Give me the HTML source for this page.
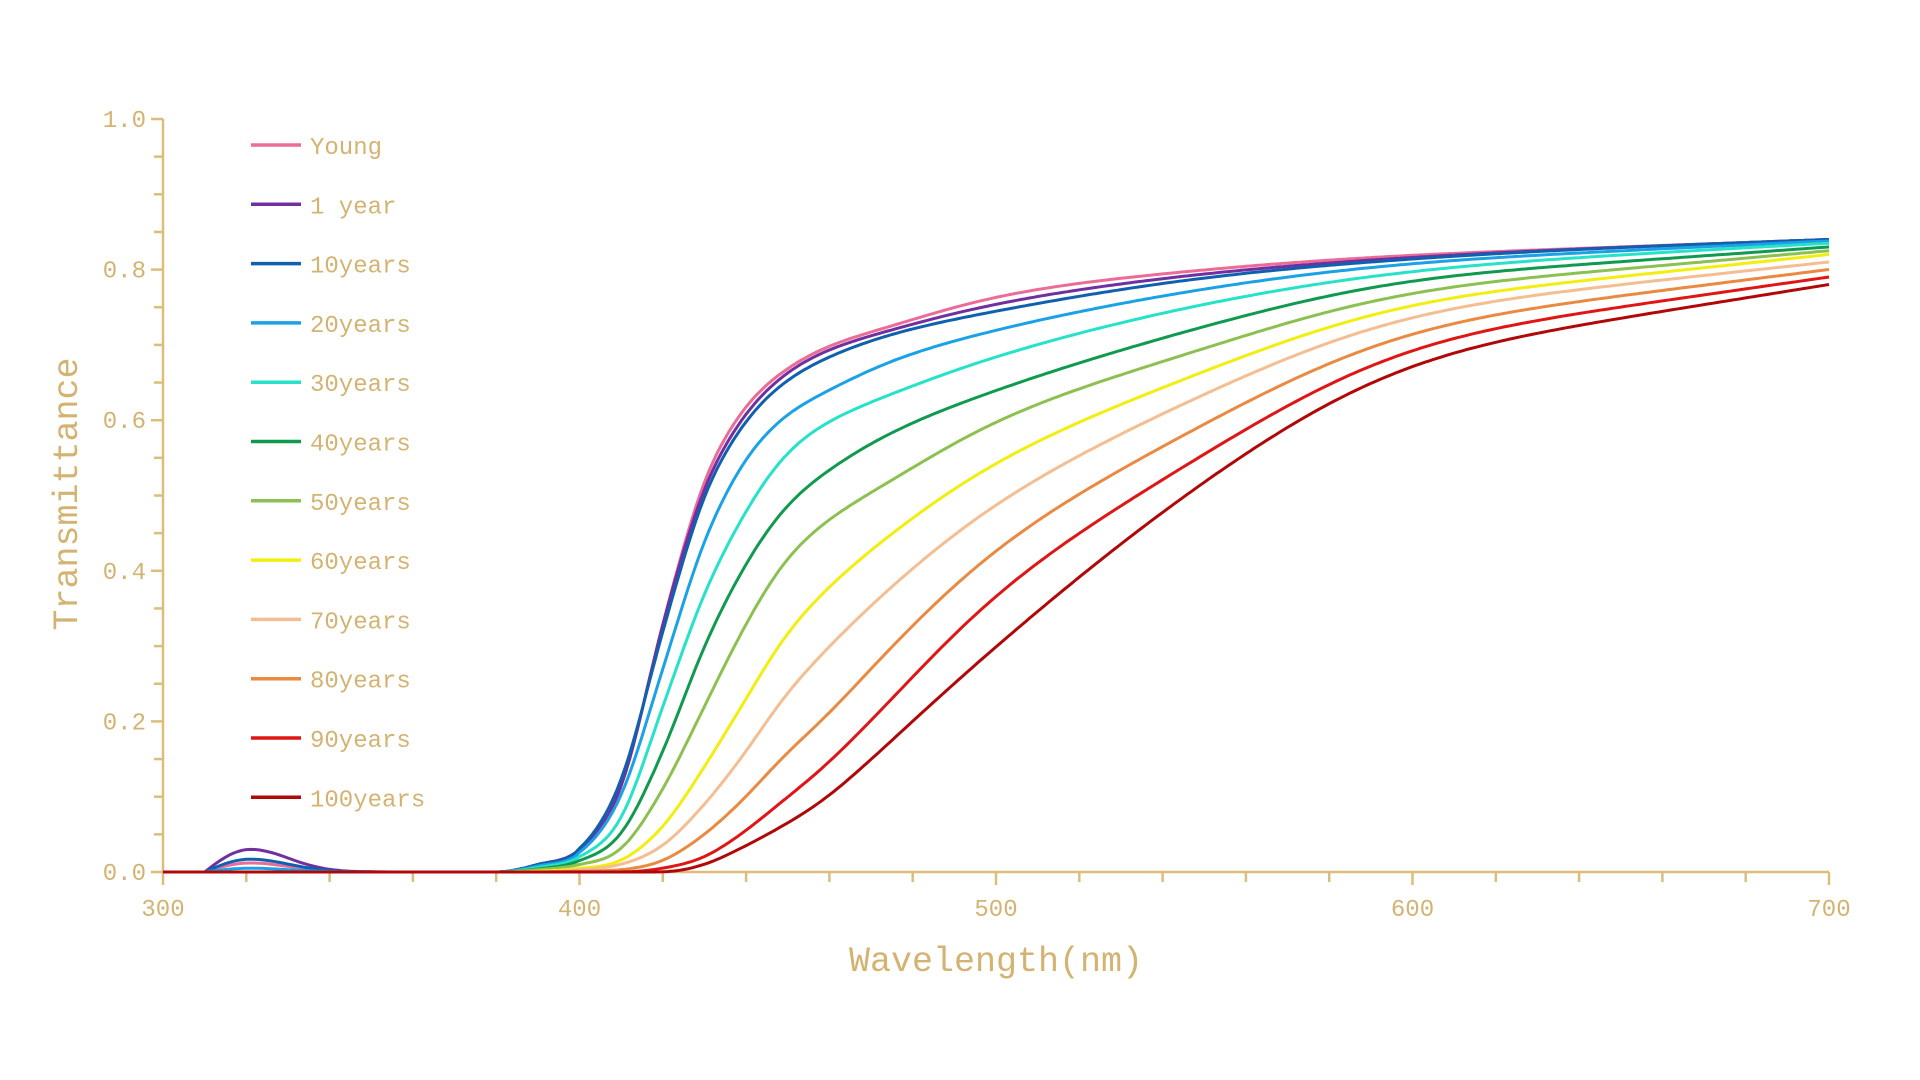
<!DOCTYPE html>
<html><head><meta charset="utf-8"><style>
html,body{margin:0;padding:0;background:#fff;width:1920px;height:1080px;overflow:hidden}
svg text{font-family:"Liberation Mono","DejaVu Sans Mono",monospace;fill:#d4b372}
</style></head><body>
<svg id="s" width="1920" height="1080" xmlns="http://www.w3.org/2000/svg">
<g id="ax" stroke="#dcbd7c" stroke-width="2.5" fill="none"></g>
<g id="tx"></g>
<g id="cv" fill="none" stroke-width="3" stroke-linejoin="round"></g>
<g id="lg"></g>
<text x="68" y="494" font-size="35" text-anchor="middle" transform="rotate(-90 68 494)" dominant-baseline="central">Transmittance</text>
<text x="996" y="971" font-size="35" text-anchor="middle">Wavelength(nm)</text>
</svg>
<script>
const NS="http://www.w3.org/2000/svg";
const X=l=>163+(l-300)*4.165, Y=t=>872-t*753;
function el(p,tag,a,txt){const e=document.createElementNS(NS,tag);for(const k in a)e.setAttribute(k,a[k]);if(txt!=null)e.textContent=txt;document.getElementById(p).appendChild(e);}
el("ax","line",{x1:163,y1:119,x2:163,y2:873});
el("ax","line",{x1:162,y1:872,x2:1829,y2:872});
for(let i=0;i<=20;i++){const y=Y(i*0.05);el("ax","line",{x1:i%4==0?151:154,y1:y,x2:163,y2:y});}
for(let l=300;l<=700;l+=20){const x=X(l);el("ax","line",{x1:x,y1:872,x2:x,y2:l%100==0?885:882});}
for(let i=0;i<=5;i++){el("tx","text",{x:146,y:Y(i*0.2)+8,"font-size":24,"text-anchor":"end"},(i*0.2).toFixed(1));}
for(let l=300;l<=700;l+=100){el("tx","text",{x:X(l),y:916,"font-size":24,"text-anchor":"middle"},String(l));}
const W=[300,380,390,400,410,420,430,440,450,460,475,500,550,600,650,700];
const D=[
["Young","#ec6c98",0.012,[0,0,0.01,0.03,0.11,0.33,0.52,0.62,0.67,0.70,0.725,0.765,0.80,0.82,0.83,0.84]],
["1 year","#7030a0",0.03,[0,0,0.01,0.03,0.11,0.33,0.51,0.61,0.665,0.695,0.72,0.755,0.795,0.817,0.83,0.84]],
["10years","#1060b0",0.017,[0,0,0.01,0.03,0.12,0.32,0.50,0.60,0.655,0.685,0.715,0.745,0.79,0.815,0.83,0.84]],
["20years","#1ba2e6",0.005,[0,0,0.008,0.025,0.10,0.27,0.44,0.55,0.61,0.64,0.68,0.72,0.775,0.81,0.825,0.838]],
["30years","#25e2c8",0,[0,0,0.006,0.02,0.07,0.22,0.37,0.48,0.56,0.60,0.635,0.685,0.755,0.80,0.82,0.835]],
["40years","#0f9a50",0,[0,0,0.004,0.015,0.05,0.16,0.30,0.41,0.49,0.535,0.585,0.64,0.725,0.79,0.81,0.83]],
["50years","#8cc152",0,[0,0,0.003,0.01,0.03,0.11,0.22,0.33,0.42,0.47,0.52,0.60,0.695,0.775,0.80,0.825]],
["60years","#f2ee10",0,[0,0,0.001,0.005,0.015,0.06,0.14,0.23,0.32,0.38,0.45,0.545,0.665,0.76,0.79,0.82]],
["70years","#f4be92",0,[0,0,0,0.003,0.01,0.035,0.09,0.16,0.24,0.30,0.38,0.49,0.635,0.745,0.78,0.81]],
["80years","#ea8a42",0,[0,0,0,0.001,0.003,0.015,0.05,0.10,0.16,0.21,0.30,0.43,0.595,0.725,0.765,0.80]],
["90years","#e01515",0,[0,0,0,0,0,0.005,0.02,0.055,0.10,0.145,0.23,0.37,0.555,0.705,0.75,0.79]],
["100years","#b00808",0,[0,0,0,0,0,0,0.01,0.035,0.065,0.10,0.175,0.30,0.52,0.685,0.735,0.78]]
];
function mono(xs,ys){const n=xs.length,m=[],dl=[];for(let i=0;i<n-1;i++)dl.push((ys[i+1]-ys[i])/(xs[i+1]-xs[i]));
m[0]=dl[0];m[n-1]=dl[n-2];for(let i=1;i<n-1;i++){m[i]=(dl[i-1]*dl[i]<=0)?0:(dl[i-1]+dl[i])/2;}
for(let i=0;i<n-1;i++){if(dl[i]==0){m[i]=m[i+1]=0;continue;}const a=m[i]/dl[i],b=m[i+1]/dl[i],s=a*a+b*b;if(s>9){const t=3/Math.sqrt(s);m[i]=t*a*dl[i];m[i+1]=t*b*dl[i];}}
return x=>{if(x<=xs[0])return ys[0];if(x>=xs[n-1])return ys[n-1]+(x-xs[n-1])*dl[n-2];let i=0;while(i<n-2&&x>xs[i+1])i++;const h=xs[i+1]-xs[i],t=(x-xs[i])/h,t2=t*t,t3=t2*t;
return (2*t3-3*t2+1)*ys[i]+(t3-2*t2+t)*h*m[i]+(-2*t3+3*t2)*ys[i+1]+(t3-t2)*h*m[i+1];};}
function bump(l){if(l<310)return 0;if(l<321)return Math.sin((l-310)/11*Math.PI/2);return Math.exp(-Math.pow((l-321)/13,2));}
D.forEach((d,k)=>{const f=mono(W,d[3]);let p="";
for(let l=300;l<=700;l+=1){
 let s=l<400?0:2+Math.max(0,l-430)*0.12;let t;
 if(s<0.5)t=f(l);else{let sw=0,sv=0;for(let j=-3*s;j<=3*s;j+=0.5){const w=Math.exp(-j*j/(2*s*s));sw+=w;sv+=w*f(l+j);}t=sv/sw;}
 t=Math.max(0,t)+d[2]*bump(l);
 p+=(l==300?"M":"L")+X(l).toFixed(1)+","+Y(t).toFixed(1);}
el("cv","path",{d:p,stroke:d[1]});
const y=145+k*59.3;el("lg","line",{x1:251,y1:y,x2:301,y2:y,stroke:d[1],"stroke-width":3.5});
el("lg","text",{x:310,y:y+9,"font-size":24},d[0]);});
</script>
</body></html>
